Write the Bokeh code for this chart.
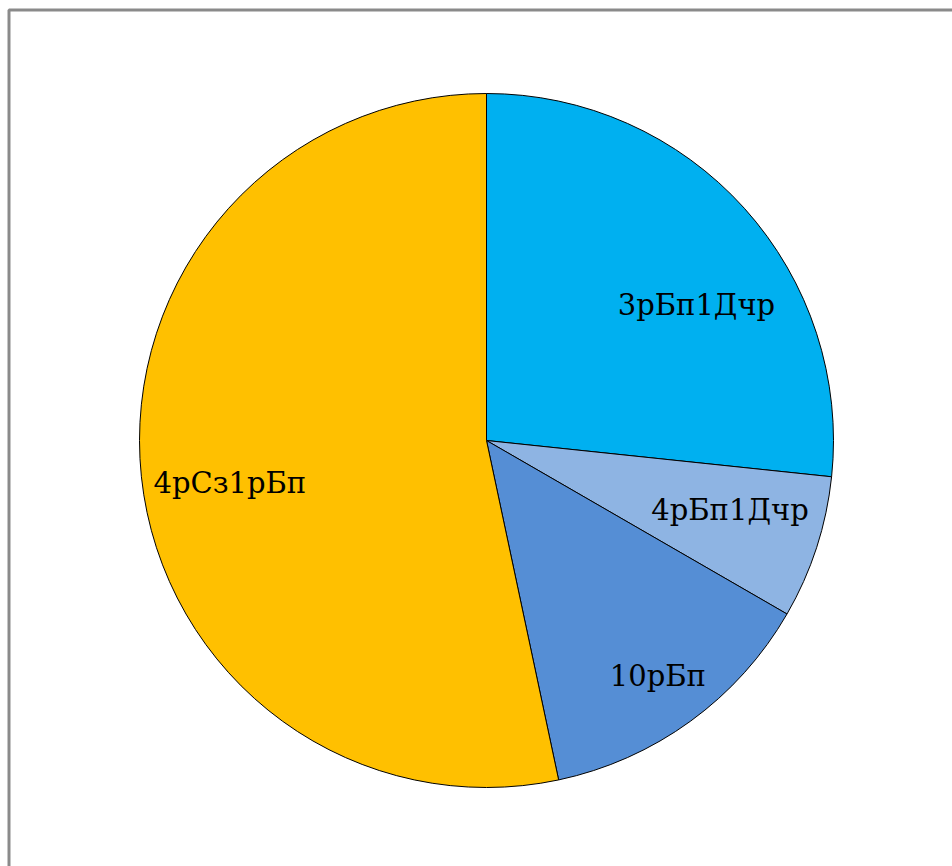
import numpy as np
from bokeh.plotting import figure
from bokeh.models import Range1d, ColumnDataSource
from bokeh.core.properties import value
from bokeh.embed import file_html
from bokeh.resources import INLINE

# Share of each mix variant
categories = ["3рБп1Дчр", "4рБп1Дчр", "10рБп", "4рСз1рБп"]
shares = [4, 1, 2, 8]
colors = ["#00B0F0", "#8EB4E3", "#558ED5", "#FFC000"]

W, H = 952, 866
cx, cy, R = 486, H - 440, 347

vals = np.array(shares, dtype=float)
frac = vals / vals.sum()
cum_end = np.cumsum(frac) * 2 * np.pi
cum_start = cum_end - frac * 2 * np.pi

# pie starts at 12 o'clock and runs clockwise
start = np.pi / 2 - cum_start
end = np.pi / 2 - cum_end
mid = (start + end) / 2

# label placement: radial fraction and angular nudge per slice
label_r = [0.72, 0.73, 0.84, 0.75]
label_da = [-0.16, 0.035, 0.0, 0.06]
lx = [cx + R * r * np.cos(m + d) for r, m, d in zip(label_r, mid, label_da)]
ly = [cy + R * r * np.sin(m + d) for r, m, d in zip(label_r, mid, label_da)]

src = ColumnDataSource(dict(
    cat=categories, start=start, end=end, color=colors, lx=lx, ly=ly,
))

p = figure(width=W, height=H, output_backend="svg", toolbar_location=None,
           x_range=Range1d(0, W), y_range=Range1d(0, H),
           x_axis_type=None, y_axis_type=None, min_border=0,
           outline_line_color=None)
p.grid.visible = False
p.background_fill_color = "white"
p.border_fill_color = "white"

# chart area frame
p.quad(left=8.5, right=W + 40, top=H - 9.5, bottom=-40,
       fill_color=None, line_color="#8a8a8a", line_width=3)

p.wedge(x=cx, y=cy, radius=R, start_angle="start", end_angle="end",
        direction="clock", fill_color="color", line_color="black",
        line_width=1, source=src)

p.text(x="lx", y="ly", text="cat", source=src, text_align="center",
       text_baseline="middle", text_font=value("DejaVu Serif"),
       text_font_size="29px", text_color="black")

open("out.html", "w").write(file_html(p, INLINE))
